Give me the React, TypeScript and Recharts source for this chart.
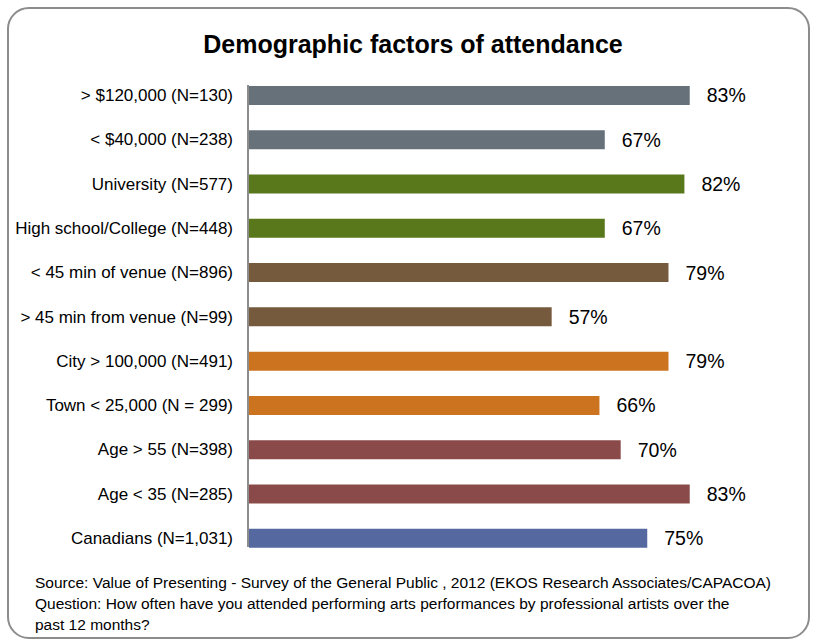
import React from "react";
import { BarChart, Bar, XAxis, YAxis, Cell, LabelList } from "recharts";

const categories = [
    "> $120,000 (N=130)",
    "< $40,000 (N=238)",
    "University (N=577)",
    "High school/College (N=448)",
    "< 45 min of venue (N=896)",
    "> 45 min from venue (N=99)",
    "City > 100,000 (N=491)",
    "Town < 25,000 (N = 299)",
    "Age > 55 (N=398)",
    "Age < 35 (N=285)",
    "Canadians (N=1,031)",
];

const values = [83, 67, 82, 67, 79, 57, 79, 66, 70, 83, 75];

const barColors = [
    "#67717a", "#67717a",
    "#58781b", "#58781b",
    "#765a3d", "#765a3d",
    "#cc731f", "#cc731f",
    "#8b4a4a", "#8b4a4a",
    "#5568a0",
];

const sourceLines = [
    "Source: Value of Presenting - Survey of the General Public , 2012 (EKOS Research Associates/CAPACOA)",
    "Question: How often have you attended performing arts performances by professional artists over the",
    "past 12 months?",
];

const data = categories.map((name, i) => ({ name, value: values[i] }));

const font = "'Liberation Sans', Arial, sans-serif";

export default function App() {
    return (
        <div style={{ position: "absolute", left: 0, top: 0, width: 817, height: 639, background: "#fff", fontFamily: font, overflow: "hidden" }}>
            <div style={{ position: "absolute", left: 7, top: 7, width: 799, height: 628, border: "2px solid #8c8c8c", borderRadius: 22 }} />
            <div style={{ position: "absolute", left: 0, top: 30, width: 826, textAlign: "center", fontSize: 25, fontWeight: "bold", color: "#000" }}>
                Demographic factors of attendance
            </div>
            <div style={{ position: "absolute", left: 0, top: 0 }}>
                <BarChart
                    width={817}
                    height={639}
                    data={data}
                    layout="vertical"
                    margin={{ top: 86, right: 37, bottom: 92, left: 0 }}
                >
                    <XAxis type="number" domain={[0, 100]} hide />
                    <YAxis
                        type="category"
                        dataKey="name"
                        width={249}
                        tickSize={0}
                        tickMargin={16}
                        axisLine={false}
                        tickLine={false}
                        padding={{ top: -13, bottom: -13 }}
                        interval={0}
                        tick={{ fill: "#000", fontSize: 17, fontFamily: font }}
                    />
                    <Bar dataKey="value" barSize={19} isAnimationActive={false}>
                        {data.map((d, i) => (
                            <Cell key={d.name} fill={barColors[i]} />
                        ))}
                        <LabelList
                            dataKey="value"
                            position="right"
                            offset={17}
                            formatter={(v: any) => `${v}%`}
                            style={{ fill: "#000", fontSize: 19.5, fontFamily: font }}
                        />
                    </Bar>
                </BarChart>
            </div>
            {/* category axis line */}
            <div style={{ position: "absolute", left: 247, top: 85, width: 2, height: 462, background: "#8c8c8c" }} />
            <div style={{ position: "absolute", left: 35, top: 572, fontSize: 15.5, lineHeight: "21px", color: "#000", whiteSpace: "nowrap" }}>
                {sourceLines.map(l => (
                    <div key={l}>{l}</div>
                ))}
            </div>
        </div>
    );
}
